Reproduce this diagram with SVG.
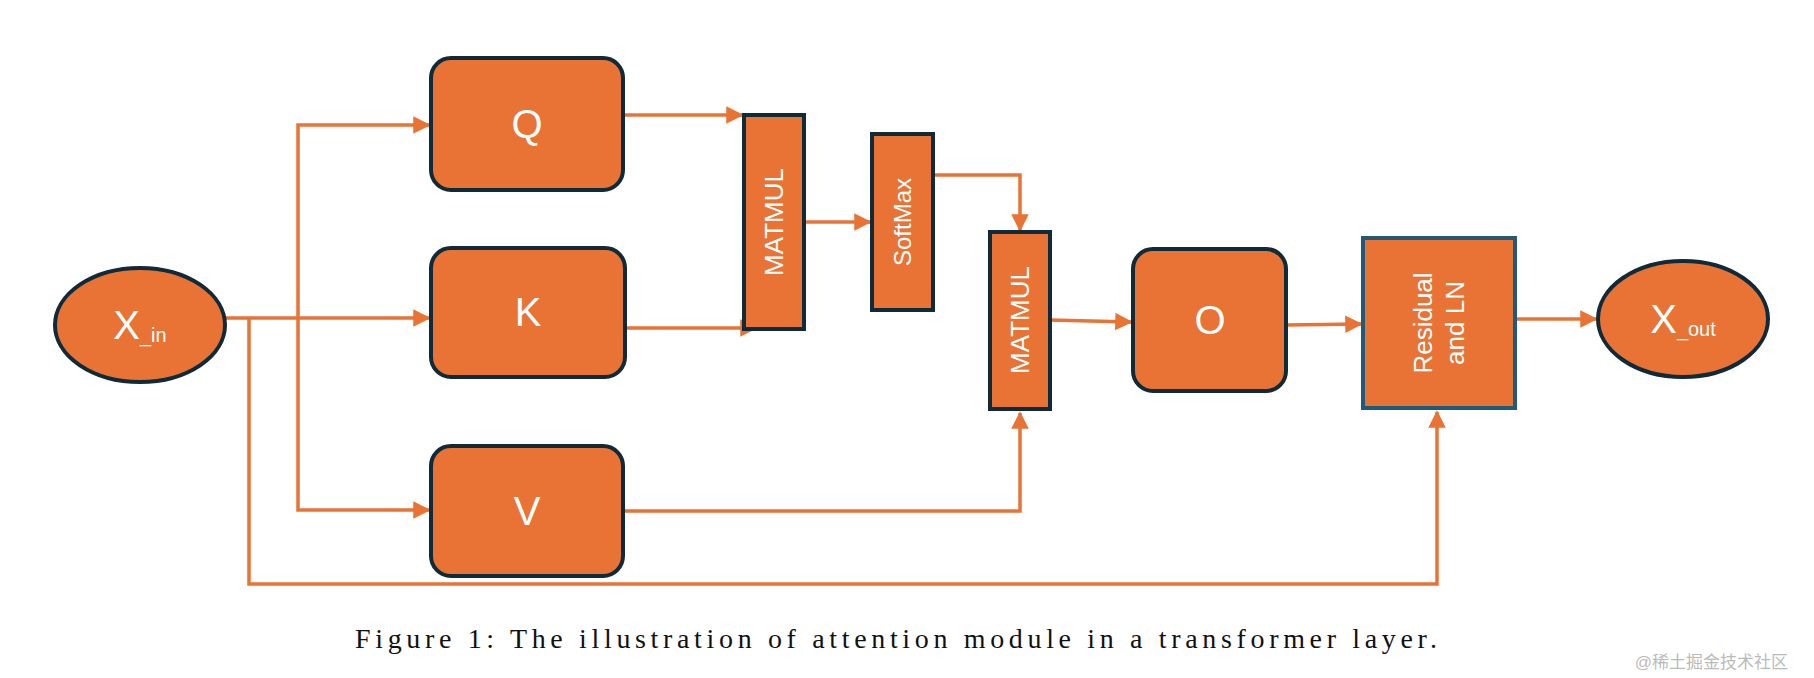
<svg xmlns="http://www.w3.org/2000/svg" width="1814" height="678" viewBox="0 0 1814 678">
<style>
.n{fill:#E87334;stroke:#0f2a38;stroke-width:4}
.t{fill:#fff;font-family:"Liberation Sans",Arial,sans-serif;text-anchor:middle;dominant-baseline:central}
.c{fill:none;stroke:#E87334;stroke-width:3.5}
</style>
<defs><marker id="a" viewBox="0 0 10 10" refX="9" refY="5" markerWidth="5" markerHeight="5" orient="auto" markerUnits="strokeWidth"><path d="M0,0L10,5L0,10z" fill="#E87334"/></marker></defs>
<rect width="1814" height="678" fill="#fff"/>
<g id="connectors">
<path class="c" d="M226,318H429" marker-end="url(#a)"/>
<path class="c" d="M298,318V125H429" marker-end="url(#a)"/>
<path class="c" d="M298,318V510H429" marker-end="url(#a)"/>
<path class="c" d="M249,318V584H1437V412" marker-end="url(#a)"/>
<path class="c" d="M623,115H742" marker-end="url(#a)"/>
<path class="c" d="M625,328H756" marker-end="url(#a)"/>
<path class="c" d="M804,222H870" marker-end="url(#a)"/>
<path class="c" d="M933,175H1020V230" marker-end="url(#a)"/>
<path class="c" d="M625,511H1020V413" marker-end="url(#a)"/>
<path class="c" d="M1050,320L1131,322" marker-end="url(#a)"/>
<path class="c" d="M1286,325L1361,324" marker-end="url(#a)"/>
<path class="c" d="M1515,319H1596" marker-end="url(#a)"/>
</g>
<g id="xin"><ellipse class="n" cx="140" cy="325" rx="85" ry="57"/><text class="t" x="140" y="325" font-size="40"><tspan>X</tspan><tspan font-size="20" dy="10">_in</tspan></text></g>
<g id="q"><rect class="n" x="431" y="58" width="192" height="132" rx="20"/><text class="t" x="527" y="124" font-size="40">Q</text></g>
<g id="k"><rect class="n" x="431" y="248" width="194" height="129" rx="20"/><text class="t" x="528" y="312" font-size="40">K</text></g>
<g id="v"><rect class="n" x="431" y="446" width="192" height="130" rx="20"/><text class="t" x="527" y="511" font-size="40">V</text></g>
<g id="mm1"><rect class="n" x="744" y="115" width="60" height="214"/><text class="t" font-size="26" transform="translate(774,222) rotate(-90)">MATMUL</text></g>
<g id="sm"><rect class="n" x="872" y="134" width="61" height="176"/><text class="t" font-size="24" transform="translate(902,222) rotate(-90)">SoftMax</text></g>
<g id="mm2"><rect class="n" x="990" y="232" width="60" height="177"/><text class="t" font-size="26" transform="translate(1020,320) rotate(-90)">MATMUL</text></g>
<g id="o"><rect class="n" x="1133" y="249" width="153" height="142" rx="20"/><text class="t" x="1210" y="320" font-size="40">O</text></g>
<g id="res"><rect class="n" x="1363" y="238" width="152" height="170" style="stroke:#1f5a78"/><text class="t" font-size="26" transform="translate(1439,323) rotate(-90)"><tspan x="0" dy="-16">Residual</tspan><tspan x="0" dy="32">and LN</tspan></text></g>
<g id="xout"><ellipse class="n" cx="1683" cy="319" rx="85" ry="58"/><text class="t" x="1683" y="319" font-size="40"><tspan>X</tspan><tspan font-size="20" dy="10">_out</tspan></text></g>
<text x="896" y="648" font-family="'Liberation Serif','Times New Roman',serif" font-size="28" text-anchor="middle" textLength="1082" fill="#111">Figure 1: The illustration of attention module in a transformer layer.</text>
<text x="1788" y="668" font-family="'Liberation Sans','Noto Sans CJK SC',sans-serif" font-size="17" text-anchor="end" fill="#bbb">@稀土掘金技术社区</text>
</svg>
